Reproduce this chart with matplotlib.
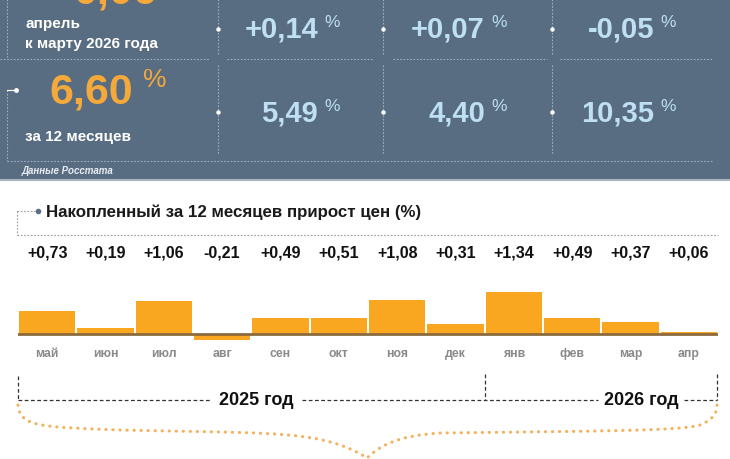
import matplotlib.pyplot as plt
from matplotlib.path import Path
from matplotlib.patches import PathPatch, Rectangle

plt.rcParams['font.family'] = ['Liberation Sans', 'DejaVu Sans']

# Данные
months = ['май', 'июн', 'июл', 'авг', 'сен', 'окт', 'ноя', 'дек', 'янв', 'фев', 'мар', 'апр']
values = [0.73, 0.19, 1.06, -0.21, 0.49, 0.51, 1.08, 0.31, 1.34, 0.49, 0.37, 0.06]
year_labels = ['2025 год', '2026 год']
month_to_month = ['+0,14', '+0,07', '-0,05']
twelve_months = ['5,49', '4,40', '10,35']
main_month = '0,06'
main_year = '6,60'

panel = '#586c82'
line_c = '#9fb0c2'
blue_txt = '#bfe0f2'
orange = '#f5a93a'
bar_c = '#f9a620'

fig = plt.figure(figsize=(7.3, 4.6), dpi=100)
ax = fig.add_axes([0, 0, 1, 1])
ax.set_xlim(0, 730)
ax.set_ylim(460, 0)
ax.axis('off')

# Верхняя панель
ax.add_patch(Rectangle((0, 0), 730, 180, color=panel, zorder=0))
ax.plot([0, 730], [180.5, 180.5], color='#a9b3bd', lw=1.5)

dot = dict(color=line_c, lw=0.8, ls=(0, (1.5, 1.5)))
for x0, x1 in [(0, 210), (227, 373), (393, 547), (560, 713)]:
    ax.plot([x0, x1], [60, 60], **dot)
ax.plot([7, 713], [162, 162], **dot)
ax.plot([7, 7], [0, 58], **dot)
ax.plot([7, 7], [91, 162], **dot)
ax.plot([7, 15], [91, 91], color='white', lw=0.8)
ax.plot([16], [91], 'o', color='white', ms=2.5)
for xv in [218, 383, 552]:
    ax.plot([xv, xv], [0, 55], **dot)
    ax.plot([xv, xv], [66, 155], **dot)
    ax.plot([xv, xv], [30, 113], 'o', color='white', ms=2.2, ls='none')

ax.text(157, 4, main_month, color=orange, fontsize=31, fontweight='bold', ha='right', va='baseline')
ax.text(25, 24, 'апрель', color='white', fontsize=11, fontweight='bold', va='center')
ax.text(25, 44, 'к марту 2026 года', color='white', fontsize=11, fontweight='bold', va='center')
ax.text(133, 104, main_year, color=orange, fontsize=31, fontweight='bold', ha='right', va='baseline')
ax.text(143, 68, '%', color=orange, fontsize=19, ha='left', va='top')
ax.text(25, 137, 'за 12 месяцев', color='white', fontsize=11, fontweight='bold', va='center')
ax.text(22, 171, 'Данные Росстата', color='#e8edf2', fontsize=7, fontstyle='italic',
        fontweight='bold', va='center')

for xr, a, b in zip([318, 485, 654], month_to_month, twelve_months):
    ax.text(xr, 38, a, color=blue_txt, fontsize=21, fontweight='bold', ha='right', va='baseline')
    ax.text(xr + 6, 15, '%', color=blue_txt, fontsize=12.5, ha='left', va='top')
    ax.text(xr, 122, b, color=blue_txt, fontsize=21, fontweight='bold', ha='right', va='baseline')
    ax.text(xr + 6, 99, '%', color=blue_txt, fontsize=12.5, ha='left', va='top')

# Заголовок графика
gray_dot = dict(color='#9a9a9a', lw=0.8, ls=(0, (1.5, 1.5)))
ax.plot([17, 35], [212, 212], **gray_dot)
ax.plot([17, 17], [212, 236], **gray_dot)
ax.plot([17, 718], [236, 236], **gray_dot)
ax.plot([38], [212], 'o', color='#5a6f85', ms=3)
ax.text(46, 212, 'Накопленный за 12 месяцев прирост цен (%)', fontsize=12.2,
        fontweight='bold', color='#1a1a1a', va='center')

# Столбики
bx = fig.add_axes([18 / 730, 1 - 350 / 460, 700 / 730, 70 / 460])
bx.set_xlim(0, 12)
bx.set_ylim(-0.5, 1.76)
bx.axis('off')
pos = [i + 0.5 for i in range(len(values))]
bx.bar(pos, values, width=0.965, color=bar_c, zorder=2)
bx.axhline(0, color='#8b6b3d', lw=2, zorder=3)

for i, (m, v) in enumerate(zip(months, values)):
    xc = 18 + (i + 0.5) * 700 / 12
    lab = ('+' if v > 0 else '') + f'{v:.2f}'.replace('.', ',')
    ax.text(xc, 253, lab, fontsize=11.5, fontweight='bold', color='#111111', ha='center', va='center')
    ax.text(xc, 354, m, fontsize=8.8, fontweight='bold', color='#8a8a8a', ha='center', va='center')

# Годы
dash = dict(color='#333333', lw=0.9, ls=(0, (3, 2)))
ax.plot([18, 210], [401, 401], **dash)
ax.plot([302, 598], [401, 401], **dash)
ax.plot([684, 717], [401, 401], **dash)
ax.plot([18, 18], [377, 401], **dash)
ax.plot([485, 485], [375, 401], **dash)
ax.plot([717, 717], [375, 401], **dash)
ax.text(256, 401, year_labels[0], fontsize=13, fontweight='bold', color='#111111', ha='center', va='center')
ax.text(641, 401, year_labels[1], fontsize=13, fontweight='bold', color='#111111', ha='center', va='center')

# Фигурная скобка
verts = [(18, 406), (20, 428), (40, 428), (120, 431),
         (250, 434), (300, 432), (340, 446),
         (355, 451), (362, 456), (367, 459),
         (380, 447), (395, 437), (440, 434),
         (600, 432), (680, 432), (700, 426),
         (714, 420), (717, 414), (717, 405)]
codes = [Path.MOVETO] + [Path.CURVE4] * 18
brace = PathPatch(Path(verts, codes), fill=False, edgecolor='#f2b25e', lw=2.2,
                  ls=(0, (0.1, 2.2)), capstyle='round')
ax.add_patch(brace)

fig.savefig('out.png', dpi=100)
